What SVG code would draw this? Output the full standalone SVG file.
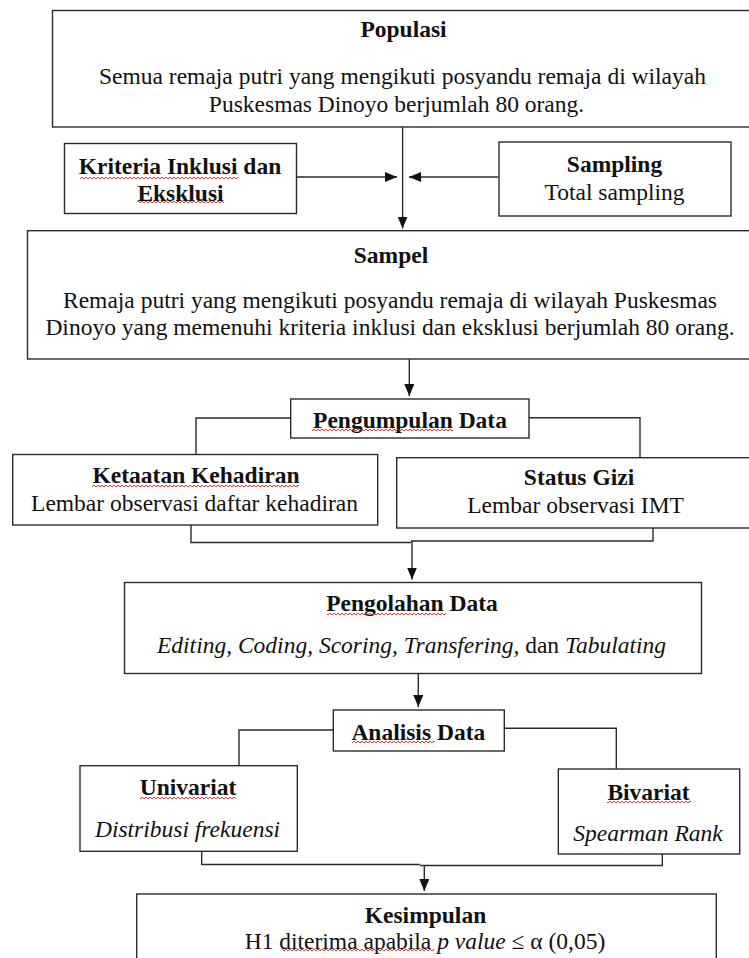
<svg xmlns="http://www.w3.org/2000/svg" width="749" height="958" viewBox="0 0 749 958">
<style>
  .box { fill: #ffffff; stroke: #2b2b2b; stroke-width: 1.4; }
  .con { fill: none; stroke: #2b2b2b; stroke-width: 1.4; }
  .t { font-family: "Liberation Serif", "Times New Roman", serif; font-size: 23.5px; fill: #111111; text-anchor: middle; }
  .b { font-weight: bold; }
  .i { font-style: italic; }
  .sq { fill: url(#wave); }
</style>
<defs>
  <marker id="arr" markerUnits="userSpaceOnUse" markerWidth="12" markerHeight="10" refX="12" refY="5" orient="auto">
    <path d="M0,0 L12,5 L0,10 z" fill="#111111"/>
  </marker>
  <pattern id="wave" patternUnits="userSpaceOnUse" x="0" y="0" width="4" height="4">
    <path d="M0,3 L2,1 L4,3" fill="none" stroke="#e02020" stroke-width="0.9"/>
  </pattern>
</defs>
<rect width="749" height="958" fill="#ffffff"/>

<g id="connectors">
  <path class="con" d="M402.6,127 V228.5" marker-end="url(#arr)"/>
  <path class="con" d="M297,177 H397" marker-end="url(#arr)"/>
  <path class="con" d="M498.5,177 H409" marker-end="url(#arr)"/>
  <path class="con" d="M409.3,359 V396" marker-end="url(#arr)"/>
  <path class="con" d="M291,418 H196 V454.5"/>
  <path class="con" d="M529,417.7 H640 V457.7"/>
  <path class="con" d="M191,525 V542.5 H411"/>
  <path class="con" d="M653,528 V541 H411"/>
  <path class="con" d="M412,541 V579.5" marker-end="url(#arr)"/>
  <path class="con" d="M418.3,673.5 V707" marker-end="url(#arr)"/>
  <path class="con" d="M333.3,730 H239 V765.7"/>
  <path class="con" d="M504.3,728.3 H616.3 V769"/>
  <path class="con" d="M201.7,851.5 V864.5 H420"/>
  <path class="con" d="M662.3,854 V865.5 H420"/>
  <path class="con" d="M424.3,865.5 V891" marker-end="url(#arr)"/>
</g>

<g id="populasi">
  <rect class="box" x="52.5" y="10.5" width="700" height="116.5"/>
  <text class="t b" x="403.5" y="37">Populasi</text>
  <text class="t" x="402.5" y="83.5">Semua remaja putri yang mengikuti posyandu remaja di wilayah</text>
  <text class="t" x="396.5" y="112">Puskesmas Dinoyo berjumlah 80 orang.</text>
</g>

<g id="kriteria">
  <rect class="box" x="64.5" y="143.5" width="232" height="70"/>
  <text class="t b" x="180" y="174">Kriteria Inklusi dan</text>
  <text class="t b" x="180.5" y="200.5">Eksklusi</text>
  <rect class="sq" x="80" y="176" width="158" height="4"/>
  <rect class="sq" x="138" y="200" width="86" height="4"/>
</g>

<g id="sampling">
  <rect class="box" x="499" y="142" width="232" height="74"/>
  <text class="t b" x="614.5" y="171.7">Sampling</text>
  <text class="t" x="614.5" y="200">Total sampling</text>
</g>

<g id="sampel">
  <rect class="box" x="27.5" y="230.7" width="725" height="128.3"/>
  <text class="t b" x="391" y="263">Sampel</text>
  <text class="t" x="390" y="308">Remaja putri yang mengikuti posyandu remaja di wilayah Puskesmas</text>
  <text class="t" x="390" y="335">Dinoyo yang memenuhi kriteria inklusi dan eksklusi berjumlah 80 orang.</text>
</g>

<g id="pengumpulan">
  <rect class="box" x="290.7" y="399" width="238.3" height="39"/>
  <text class="t b" x="410" y="428.3">Pengumpulan Data</text>
  <rect class="sq" x="312" y="428" width="141" height="4"/>
</g>

<g id="ketaatan">
  <rect class="box" x="12.7" y="454.5" width="365" height="70.5"/>
  <text class="t b" x="196" y="483">Ketaatan Kehadiran</text>
  <text class="t" x="194.5" y="511">Lembar observasi daftar kehadiran</text>
  <rect class="sq" x="92" y="484" width="207" height="4"/>
</g>

<g id="status-gizi">
  <rect class="box" x="396.7" y="457.7" width="356" height="70.3"/>
  <text class="t b" x="579" y="485">Status Gizi</text>
  <text class="t" x="575.6" y="513">Lembar observasi IMT</text>
</g>

<g id="pengolahan">
  <rect class="box" x="124.5" y="582.5" width="577" height="91"/>
  <text class="t b" x="412" y="611">Pengolahan Data</text>
  <text class="t" x="411.5" y="653"><tspan class="i">Editing, Coding, Scoring, Transfering,</tspan> dan <tspan class="i">Tabulating</tspan></text>
  <rect class="sq" x="327" y="612" width="119" height="4"/>
</g>

<g id="analisis">
  <rect class="box" x="333.3" y="710" width="171" height="41"/>
  <text class="t b" x="418.3" y="740">Analisis Data</text>
  <rect class="sq" x="352" y="740" width="83" height="4"/>
</g>

<g id="univariat">
  <rect class="box" x="80" y="765.7" width="217.3" height="85.6"/>
  <text class="t b" x="188" y="795.3">Univariat</text>
  <text class="t i" x="187.5" y="837.3">Distribusi frekuensi</text>
  <rect class="sq" x="140" y="796" width="96" height="4"/>
</g>

<g id="bivariat">
  <rect class="box" x="558.3" y="769" width="181.4" height="85"/>
  <text class="t b" x="648.5" y="799.7">Bivariat</text>
  <text class="t i" x="648" y="840.7">Spearman Rank</text>
  <rect class="sq" x="607" y="800" width="84" height="4"/>
</g>

<g id="kesimpulan">
  <rect class="box" x="136.7" y="894" width="579.6" height="80"/>
  <text class="t b" x="425.5" y="922.7">Kesimpulan</text>
  <text class="t" x="425" y="948.7">H1 diterima apabila <tspan class="i">p value</tspan> ≤ α (0,05)</text>
  <rect class="sq" x="282" y="948" width="152" height="4"/>
</g>
</svg>
